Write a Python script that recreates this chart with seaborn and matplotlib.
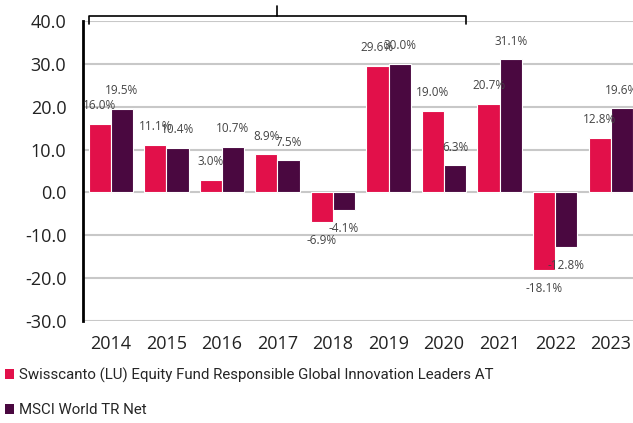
import numpy as np
import pandas as pd
import matplotlib
matplotlib.use("Agg")
import matplotlib.pyplot as plt
import seaborn as sns
from matplotlib.patches import Patch

years = ["2014", "2015", "2016", "2017", "2018", "2019", "2020", "2021", "2022", "2023"]
fund = [16.0, 11.1, 3.0, 8.9, -6.9, 29.6, 19.0, 20.7, -18.1, 12.8]
msci = [19.5, 10.4, 10.7, 7.5, -4.1, 30.0, 6.3, 31.1, -12.8, 19.6]
series_names = ["Swisscanto (LU) Equity Fund Responsible Global Innovation Leaders AT",
                "MSCI World TR Net"]
colors = ["#E2104A", "#4A0840"]
yticks = [-30, -20, -10, 0, 10, 20, 30, 40]
bracket_span = (0, 6)  # 2014..2020

df = pd.DataFrame({
    "year": years * 2,
    "value": fund + msci,
    "series": [series_names[0]] * len(years) + [series_names[1]] * len(years),
})

sns.set_style("white")
plt.rcParams["font.family"] = ["Open Sans", "DejaVu Sans"]

fig = plt.figure(figsize=(6.33, 4.23), dpi=100)
ax = fig.add_axes([83 / 633, 102 / 423, 550 / 633, 300 / 423])

sns.barplot(data=df, x="year", y="value", hue="series", palette=colors, saturation=1,
            width=0.8, edgecolor="white", linewidth=0.8, legend=False, ax=ax, zorder=3)

ax.set_ylim(-30, 40)
ax.set_xlim(-0.5, 9.4)
ax.set_yticks(yticks)
ax.set_yticklabels([f"{v:.1f}" for v in yticks], fontsize=13, color="#222222")
ax.tick_params(axis="x", labelsize=13, colors="#222222", length=0, pad=10)
ax.tick_params(axis="y", length=0, pad=12)
ax.set_xlabel("")
ax.set_ylabel("")
for y in yticks:
    ax.axhline(y, color="#c8c8c8", lw=1.5, zorder=1)
for s in ["top", "right", "bottom"]:
    ax.spines[s].set_visible(False)
ax.spines["left"].set_color("black")
ax.spines["left"].set_linewidth(2)
ax.spines["left"].set_zorder(4)

# value labels
for cont in ax.containers:
    for bar in cont:
        h = bar.get_height()
        xc = bar.get_x() + bar.get_width() / 2
        off = 13 if h >= 0 else -13
        ax.annotate(f"{h:.1f}%", (xc, h), xytext=(0, off), textcoords="offset points",
                    ha="center", va="center", fontsize=8.5, color="#444444", zorder=5)

# curly bracket on top
x0, x1 = bracket_span[0] - 0.4, bracket_span[1] + 0.4
xm = (x0 + x1) / 2
yb = 41.2
ax.plot([x0, x0, x1, x1], [39.3, yb, yb, 39.3], color="black", lw=1.2, clip_on=False, zorder=6)
ax.plot([xm, xm], [yb, 43.5], color="black", lw=1.2, clip_on=False, zorder=6)

handles = [Patch(facecolor=c, edgecolor="none") for c in colors]
fig.legend(handles, series_names, loc="upper left", bbox_to_anchor=(0.0, 1 - 363 / 423),
           frameon=False, handlelength=0.65, handleheight=0.65,
           handletextpad=0.3, labelspacing=1.35, borderaxespad=0, borderpad=0.3,
           prop={"family": ["Roboto", "DejaVu Sans"], "size": 10.8})

fig.savefig("out.png", dpi=100)
